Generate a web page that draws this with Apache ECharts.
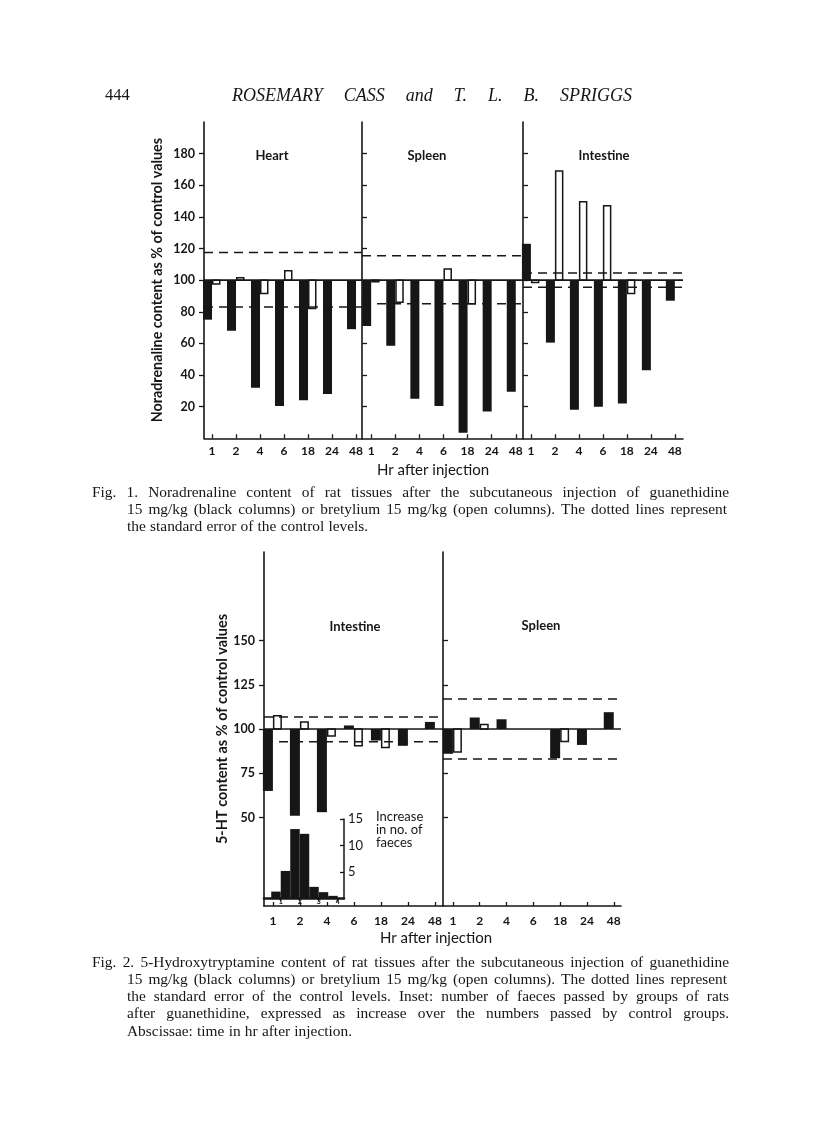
<!DOCTYPE html>
<html><head><meta charset="utf-8">
<script src="https://cdn.jsdelivr.net/npm/echarts@6/dist/echarts.min.js"></script>
<style>html,body{margin:0;padding:0;background:#fff}#c{width:816px;height:1122px}</style>
</head><body><div id="c"></div>
<script>
// ---------- data ----------
const hours = ['1', '2', '4', '6', '18', '24', '48'];
// Fig. 1 – noradrenaline, % of control
const f1HeartBlack = [75, 68, 32, 20.5, 24, 28, 69];
const f1HeartOpen = [97.5, 101.5, 91.5, 106, 82, null, null];
const f1SpleenBlack = [71, 58.5, 25, 20.5, 3.5, 17, 29.5];
const f1SpleenOpen = [99, 86, null, 107, 85, null, null];
const f1IntBlack = [123, 60.5, 18, 20, 22, 43, 87];
const f1IntOpen = [98.5, 169, 149.5, 147, 91.5, null, null];
const f1HeartSE = [83, 117.5];
const f1SpleenSE = [85, 115.5];
const f1IntSE = [95.5, 104.5];
const f1YTicks = [20, 40, 60, 80, 100, 120, 140, 160, 180];
// Fig. 2 – 5-HT, % of control
const f2IntBlack = [65, 51, 53, 102, 93.5, 90.5, 104];
const f2IntOpen = [107.5, 104, 96, 90.5, 89.5, null, null];
const f2SpleenBlack = [86, 106.5, 105.5, null, 83.5, 91, 109.5];
const f2SpleenOpen = [87, 102.5, null, null, 93, null, null];
const f2IntSE = [92.8, 106.8];
const f2SpleenSE = [83, 117];
const f2YTicks = [50, 75, 100, 125, 150];
// Inset – increase in number of faeces (half-hour bins)
const insetBinStart = [0.5, 1, 1.5, 2, 2.5, 3, 3.5];
const insetBinEnd = [1, 1.5, 2, 2.5, 3, 3.5, 4];
const insetValues = [1.3, 5.2, 13.1, 12.2, 2.2, 1.2, 0.5];
const insetXTicks = [1, 2, 3, 4];
const insetYTicks = [5, 10, 15];

// ---------- helpers ----------
const INK = '#161616';
const SANS = 'Lato, "Open Sans", sans-serif';
const SERIF = '"Liberation Serif", "DejaVu Serif", serif';
const idx = [0, 1, 2, 3, 4, 5, 6];

function xAxis(gi, min, max, margin) {
  return {
    type: 'value', gridIndex: gi, min: min, max: max,
    splitLine: { show: false },
    axisLine: { show: true, onZero: false, lineStyle: { color: INK, width: 1.6 } },
    axisTick: { show: true, inside: true, length: 4, customValues: idx, lineStyle: { color: INK, width: 1.3 } },
    axisLabel: { show: true, customValues: idx, formatter: v => hours[Math.round(v)], margin: margin,
      color: INK, fontFamily: SANS, fontWeight: 'bold', fontSize: 12 }
  };
}
function yAxis(gi, ticks, labelled, name, nameGap, nameSize) {
  return {
    type: 'value', gridIndex: gi, min: 0, max: 200,
    splitLine: { show: false },
    axisLine: { show: true, onZero: false, lineStyle: { color: INK, width: 1.6 } },
    axisTick: { show: true, inside: !labelled, length: 5, customValues: ticks, lineStyle: { color: INK, width: 1.3 } },
    axisLabel: { show: labelled, customValues: ticks, margin: 9, color: INK, fontFamily: SANS, fontWeight: 'bold', fontSize: 12.5 },
    name: name || '', nameLocation: 'middle', nameGap: nameGap || 0, nameRotate: 90,
    nameTextStyle: { color: INK, fontFamily: SANS, fontWeight: 'bold', fontSize: nameSize || 13 }
  };
}
function bars(gi, values, open, w) {
  const data = [];
  values.forEach((v, i) => { if (v != null) data.push([i, v]); });
  return {
    type: 'custom', xAxisIndex: gi, yAxisIndex: gi, data: data, silent: true, z: open ? 2 : 3,
    renderItem: function (params, api) {
      const x = api.value(0), v = api.value(1);
      const p0 = api.coord([x, 100]), p1 = api.coord([x, v]);
      const left = open ? p0[0] : p0[0] - w;
      const top = Math.min(p0[1], p1[1]);
      const h = Math.abs(p0[1] - p1[1]);
      if (open) {
        return { type: 'rect', shape: { x: left + 0.75, y: top, width: w - 1.5, height: h },
          style: { fill: '#fff', stroke: INK, lineWidth: 1.5 } };
      }
      return { type: 'rect', shape: { x: left, y: top, width: w, height: h }, style: { fill: INK } };
    }
  };
}
function hline(gi, min, max, v, dashed) {
  return {
    type: 'line', xAxisIndex: gi, yAxisIndex: gi, data: [[min, v], [max, v]], symbol: 'none', silent: true,
    z: 5, lineStyle: { color: INK, width: dashed ? 1.5 : 1.6, type: dashed ? [9, 6] : 'solid' }
  };
}

// ---------- grids ----------
const R = {
  h1: [-0.333, 6.25], s1: [-0.38, 6.3], i1: [-0.33, 6.34],
  i2: [-0.33, 6.3], s2: [-0.37, 6.27]
};
const grids = [
  { left: 204, top: 122, width: 158, height: 316.3 },
  { left: 362, top: 122, width: 161, height: 316.3 },
  { left: 523, top: 122, width: 160, height: 316.3 },
  { left: 264, top: 552, width: 179, height: 354 },
  { left: 443, top: 552, width: 178, height: 354 },
  { left: 264, top: 819, width: 80, height: 79.5 }
];
const xAxes = [
  xAxis(0, R.h1[0], R.h1[1], 7), xAxis(1, R.s1[0], R.s1[1], 7), xAxis(2, R.i1[0], R.i1[1], 7),
  xAxis(3, R.i2[0], R.i2[1], 9), xAxis(4, R.s2[0], R.s2[1], 9),
  { type: 'value', gridIndex: 5, min: 0.12, max: 4.33, splitLine: { show: false },
    axisLine: { show: true, onZero: false, lineStyle: { color: INK, width: 2.5 } },
    axisTick: { show: true, inside: false, length: 3, customValues: insetXTicks, lineStyle: { color: INK, width: 1.2 } },
    axisLabel: { show: true, customValues: insetXTicks, margin: 0, color: INK, fontFamily: SANS, fontWeight: 'bold', fontSize: 7 } }
];
const yAxes = [
  yAxis(0, f1YTicks, true, 'Noradrenaline content as % of control values', 40, 14.3),
  yAxis(1, f1YTicks, false), yAxis(2, f1YTicks, false),
  yAxis(3, f2YTicks, true, '5-HT content as % of control values', 34, 14.5),
  yAxis(4, f2YTicks, false),
  { type: 'value', gridIndex: 5, position: 'right', min: 0, max: 15, splitLine: { show: false },
    axisLine: { show: true, onZero: false, lineStyle: { color: INK, width: 1.5 } },
    axisTick: { show: true, inside: true, length: 4, customValues: insetYTicks, lineStyle: { color: INK, width: 1.3 } },
    axisLabel: { show: true, customValues: insetYTicks, margin: 4, color: INK, fontFamily: SANS, fontSize: 13 } }
];

const series = [
  bars(0, f1HeartOpen, true, 8.5), bars(0, f1HeartBlack, false, 9),
  bars(1, f1SpleenOpen, true, 8.5), bars(1, f1SpleenBlack, false, 9),
  bars(2, f1IntOpen, true, 8.5), bars(2, f1IntBlack, false, 9),
  bars(3, f2IntOpen, true, 9), bars(3, f2IntBlack, false, 10),
  bars(4, f2SpleenOpen, true, 9), bars(4, f2SpleenBlack, false, 10),
  hline(0, R.h1[0], R.h1[1], 100, false), hline(0, R.h1[0], R.h1[1], f1HeartSE[0], true), hline(0, R.h1[0], R.h1[1], f1HeartSE[1], true),
  hline(1, R.s1[0], R.s1[1], 100, false), hline(1, R.s1[0], R.s1[1], f1SpleenSE[0], true), hline(1, R.s1[0], R.s1[1], f1SpleenSE[1], true),
  hline(2, R.i1[0], R.i1[1], 100, false), hline(2, R.i1[0], R.i1[1], f1IntSE[0], true), hline(2, R.i1[0], R.i1[1], f1IntSE[1], true),
  hline(3, R.i2[0], R.i2[1], 100, false), hline(3, R.i2[0], R.i2[1], f2IntSE[0], true), hline(3, R.i2[0], R.i2[1], f2IntSE[1], true),
  hline(4, R.s2[0], R.s2[1], 100, false), hline(4, R.s2[0], R.s2[1], f2SpleenSE[0], true), hline(4, R.s2[0], R.s2[1], f2SpleenSE[1], true),
  {
    type: 'custom', xAxisIndex: 5, yAxisIndex: 5, silent: true, z: 4,
    data: insetValues.map((v, i) => [insetBinStart[i], insetBinEnd[i], v]),
    renderItem: function (params, api) {
      const p0 = api.coord([api.value(0), 0]), p1 = api.coord([api.value(1), api.value(2)]);
      return { type: 'rect', shape: { x: p0[0], y: p1[1], width: p1[0] - p0[0], height: p0[1] - p1[1] }, style: { fill: INK } };
    }
  }
];

// ---------- text (header, titles, captions) ----------
const mctx = document.createElement('canvas').getContext('2d');
function textLine(text, x0, x1, y, font, justify) {
  const words = text.split(/\s+/);
  mctx.font = font;
  const widths = words.map(w => mctx.measureText(w).width);
  const sum = widths.reduce((a, b) => a + b, 0);
  const gap = justify && words.length > 1 ? (x1 - x0 - sum) / (words.length - 1) : mctx.measureText(' ').width * 1.1;
  const out = [];
  let x = x0;
  words.forEach((w, i) => {
    out.push({ type: 'text', x: x, y: y, silent: true, style: { text: w, font: font, fill: INK, verticalAlign: 'middle' } });
    x += widths[i] + gap;
  });
  return out;
}
function label(text, x, y, size, weight) {
  return { type: 'text', x: x, y: y, silent: true,
    style: { text: text, font: (weight || 'bold') + ' ' + size + 'px ' + SANS, fill: INK, align: 'center', verticalAlign: 'middle' } };
}
const capFont = '15.4px ' + SERIF;
let graphics = [];
graphics.push({ type: 'text', x: 105, y: 96, silent: true, style: { text: '444', font: '16.5px ' + SERIF, fill: INK, verticalAlign: 'middle' } });
graphics = graphics.concat(textLine('ROSEMARY CASS and T. L. B. SPRIGGS', 232, 632, 96, 'italic 18px ' + SERIF, true));
graphics.push(label('Heart', 272, 156, 13), label('Spleen', 427, 156, 13), label('Intestine', 604, 156, 13));
graphics.push(label('Hr after injection', 433, 470, 15, 'normal'));
graphics.push(label('Intestine', 355, 627, 13), label('Spleen', 541, 626, 13));
graphics.push(label('Hr after injection', 436, 938, 15, 'normal'));
['Increase', 'in no. of', 'faeces'].forEach((t, i) => {
  graphics.push({ type: 'text', x: 376, y: 817 + i * 13, silent: true, style: { text: t, font: '13px ' + SANS, fill: INK, verticalAlign: 'middle' } });
});
const cap1 = [
  ['Fig. 1.  Noradrenaline content of rat tissues after the subcutaneous injection of guanethidine', 92, 729, 493, true],
  ['15 mg/kg (black columns) or bretylium 15 mg/kg (open columns).  The dotted lines represent', 127, 727, 510, true],
  ['the standard error of the control levels.', 127, 0, 527, false]
];
const cap2 = [
  ['Fig. 2.  5-Hydroxytryptamine content of rat tissues after the subcutaneous injection of guanethidine', 92, 729, 963, true],
  ['15 mg/kg (black columns) or bretylium 15 mg/kg (open columns).  The dotted lines represent', 127, 727, 980, true],
  ['the standard error of the control levels.  Inset: number of faeces passed by groups of rats', 127, 729, 997, true],
  ['after guanethidine, expressed as increase over the numbers passed by control groups.', 127, 729, 1014, true],
  ['Abscissae: time in hr after injection.', 127, 0, 1032, false]
];
cap1.concat(cap2).forEach(c => { graphics = graphics.concat(textLine(c[0], c[1], c[2], c[3], capFont, c[4])); });

const chart = echarts.init(document.getElementById('c'), null, { renderer: 'canvas' });
chart.setOption({
  backgroundColor: '#fff',
  animation: false,
  grid: grids,
  xAxis: xAxes,
  yAxis: yAxes,
  series: series,
  graphic: graphics
});
</script>
</body></html>
